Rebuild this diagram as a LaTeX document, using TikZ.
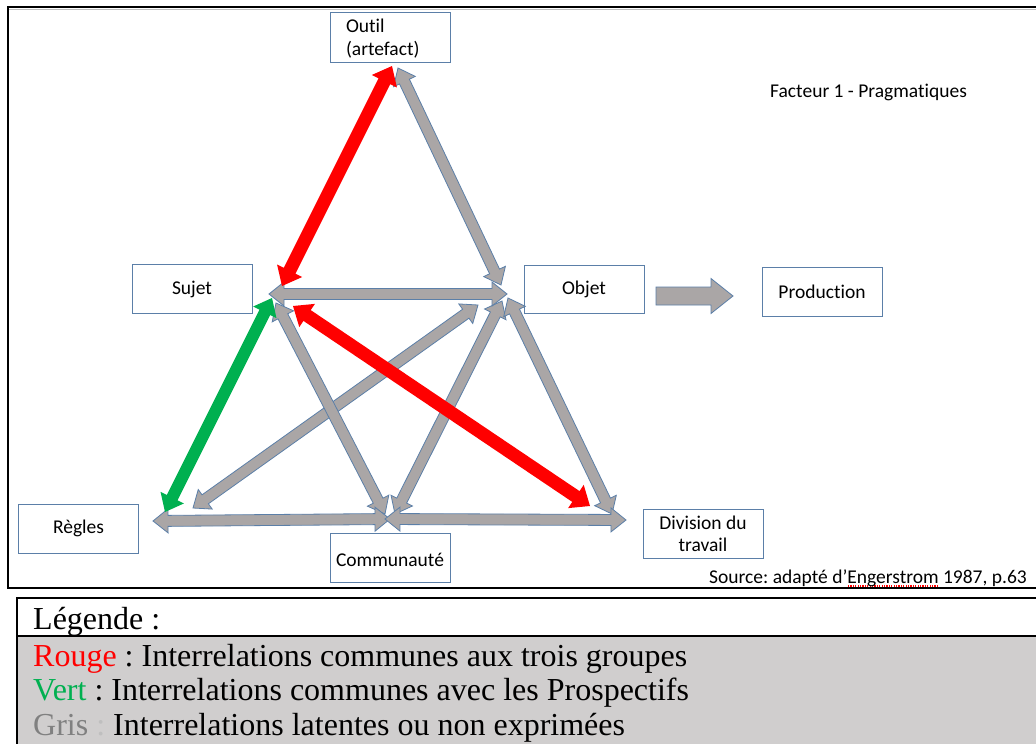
\documentclass[tikz,border=0pt]{standalone}
\usepackage{fontspec}
\setmainfont{Liberation Serif}
\newfontfamily\calibri[Ligatures=NoCommon]{Carlito}
\usetikzlibrary{calc}
\frenchspacing

\definecolor{boxline}{HTML}{5B7FA8}
\definecolor{arrowgray}{HTML}{AAA6A6}
\definecolor{arrowedge}{HTML}{5B7FA8}
\definecolor{arrowred}{HTML}{FF0000}
\definecolor{arrowgreen}{HTML}{00B050}
\definecolor{legendgray}{HTML}{D0CECE}
\definecolor{grisdark}{HTML}{808080}
\definecolor{grislight}{HTML}{BFBFBF}

% red dotted spell-check mark under a word
\newcommand\spellmark[1]{\setbox0\hbox{#1}\rlap{\color{red}\raisebox{-3.5pt}{\hbox to\wd0{\leaders\hbox to 2.4pt{\hss\rule{1.1pt}{1.1pt}\hss}\hfill}}}\box0\relax}

\tikzset{
  blkdims/.code n args={3}{\def\blkSW{#1}\def\blkHW{#2}\def\blkHL{#3}},
  % double-headed block arrow between two points
  blkdbl/.style={to path={
    -- ($(\tikztostart)!\blkHL!(\tikztotarget)!\blkHW!90:(\tikztotarget)$)
    -- ($(\tikztostart)!\blkHL!(\tikztotarget)!\blkSW!90:(\tikztotarget)$)
    -- ($(\tikztotarget)!\blkHL!(\tikztostart)!\blkSW!-90:(\tikztostart)$)
    -- ($(\tikztotarget)!\blkHL!(\tikztostart)!\blkHW!-90:(\tikztostart)$)
    -- (\tikztotarget)
    -- ($(\tikztotarget)!\blkHL!(\tikztostart)!\blkHW!90:(\tikztostart)$)
    -- ($(\tikztotarget)!\blkHL!(\tikztostart)!\blkSW!90:(\tikztostart)$)
    -- ($(\tikztostart)!\blkHL!(\tikztotarget)!\blkSW!-90:(\tikztotarget)$)
    -- ($(\tikztostart)!\blkHL!(\tikztotarget)!\blkHW!-90:(\tikztotarget)$)
    -- cycle}},
  % single-headed block arrow
  blksgl/.style={to path={
    -- ($(\tikztostart)!\blkSW!90:(\tikztotarget)$)
    -- ($(\tikztotarget)!\blkHL!(\tikztostart)!\blkSW!-90:(\tikztostart)$)
    -- ($(\tikztotarget)!\blkHL!(\tikztostart)!\blkHW!-90:(\tikztostart)$)
    -- (\tikztotarget)
    -- ($(\tikztotarget)!\blkHL!(\tikztostart)!\blkHW!90:(\tikztostart)$)
    -- ($(\tikztotarget)!\blkHL!(\tikztostart)!\blkSW!90:(\tikztostart)$)
    -- ($(\tikztostart)!\blkSW!-90:(\tikztotarget)$)
    -- cycle}},
  grayarrow/.style={fill=arrowgray, draw=arrowedge, line width=0.8pt, line join=miter,
    blkdims={5.5pt}{12pt}{15pt}, blkdbl},
  redarrow/.style={fill=arrowred, draw=none, blkdims={6.5pt}{14pt}{17pt}, blkdbl},
  greenarrow/.style={fill=arrowgreen, draw=none, blkdims={6pt}{13pt}{16pt}, blkdbl},
  outarrow/.style={fill=arrowgray, draw=arrowedge, line width=0.8pt, line join=miter,
    blkdims={9pt}{17.5pt}{22pt}, blksgl},
  box/.style={draw=boxline, line width=0.9pt, fill=white, minimum width=120pt,
    minimum height=49pt, inner sep=0pt, align=center, text=black,
    font=\calibri\fontsize{19.5}{23}\selectfont},
  note/.style={inner sep=0pt, text=black, font=\calibri\fontsize{19.5}{23}\selectfont},
  legend/.style={inner sep=0pt, anchor=base west, text=black,
    font=\fontsize{32}{38}\selectfont}
}

\begin{document}
\begin{tikzpicture}[x=1pt, y=-1pt]
\useasboundingbox (0,0) rectangle (1036,744);
\clip (0,0) rectangle (1036,744);
\fill[white] (0,0) rectangle (1036,744);

% outer frame of the diagram
\draw[grislight, line width=1pt] (9,9.8) -- (1040,9.8);
\draw[black, line width=2pt] (8,7) rectangle (1045,588);

% boxes
\node[box, minimum height=50pt, text width=88pt, inner xsep=16pt, align=left] (outil) at (390,37)
  {\rule{0pt}{17pt}Outil\\(artefact)};
\node[box] (sujet) at (192,288.5) {\rule{0pt}{15pt}Sujet};
\node[box, minimum height=48pt] (objet) at (584,289) {Objet};
\node[box] (production) at (822,291.5) {Production};
\node[box] (regles) at (78.5,528.5) {Règles};
\node[box] (communaute) at (390,557.5) {\rule{0pt}{18pt}Communauté};
\node[box] (division) at (703,533.5) {Division du\\[-1pt]travail};

% arrow ends
\coordinate (outil-objet) at (398,68);   \coordinate (objet-outil) at (501,285);
\coordinate (sujet-objet) at (269,294);  \coordinate (objet-sujet) at (507,294);
\coordinate (regles-objet) at (193,508); \coordinate (objet-regles) at (478,305);
\coordinate (sujet-comm) at (276,303);   \coordinate (comm-sujet) at (385,514);
\coordinate (comm-objet) at (395,514);   \coordinate (objet-comm) at (502,301);
\coordinate (objet-div) at (508,298);    \coordinate (div-objet) at (612,514);
\coordinate (regles-comm) at (153,521);  \coordinate (comm-regles) at (390,519);
\coordinate (comm-div) at (385,519);     \coordinate (div-comm) at (626,520);
\coordinate (outil-sujet) at (392,66);   \coordinate (sujet-outil) at (282,286);
\coordinate (sujet-div) at (293,306);    \coordinate (div-sujet) at (590,506);
\coordinate (sujet-regles) at (272,298); \coordinate (regles-sujet) at (165,512);
\coordinate (objet-prod) at (656,296);   \coordinate (prod-objet) at (733,296);

% latent relations (gray)
\path[grayarrow] (outil-objet) to (objet-outil);
\path[grayarrow] (regles-objet) to (objet-regles);
\path[grayarrow] (sujet-comm) to (comm-sujet);
\path[grayarrow] (comm-objet) to (objet-comm);
\path[grayarrow] (objet-div) to (div-objet);
\path[grayarrow] (regles-comm) to (comm-regles);
\path[grayarrow] (comm-div) to (div-comm);
\path[grayarrow] (sujet-objet) to (objet-sujet);

% relations common to the three groups (red) and to the Prospectifs (green)
\path[redarrow] (outil-sujet) to (sujet-outil);
\path[redarrow] (sujet-div) to (div-sujet);
\path[greenarrow] (sujet-regles) to (regles-sujet);

% output
\path[outarrow] (objet-prod) to (prod-objet);

% captions
\node[note, anchor=base west] (facteur) at (770,97) {Facteur 1 - Pragmatiques};
\node[note, anchor=base east] (source) at (1027,583)
  {Source: adapté d’\spellmark{Engerstrom} 1987, p.63};

% legend table
\fill[legendgray] (17,636) rectangle (1045,760);
\draw[black, line width=2pt] (17,598) rectangle (1045,760);
\draw[black, line width=2pt] (17,636) -- (1045,636);
\node[legend] (leg0) at (33,629) {Légende :};
\node[legend] (leg1) at (33,666) {\textcolor{arrowred}{Rouge} : Interrelations communes aux trois groupes};
\node[legend] (leg2) at (33,700.5) {\textcolor{arrowgreen}{Vert} : Interrelations communes avec les Prospectifs};
\node[legend] (leg3) at (33,735) {\textcolor{grisdark}{Gris} \textcolor{grislight}{:} Interrelations latentes ou non exprimées};
\end{tikzpicture}
\end{document}
